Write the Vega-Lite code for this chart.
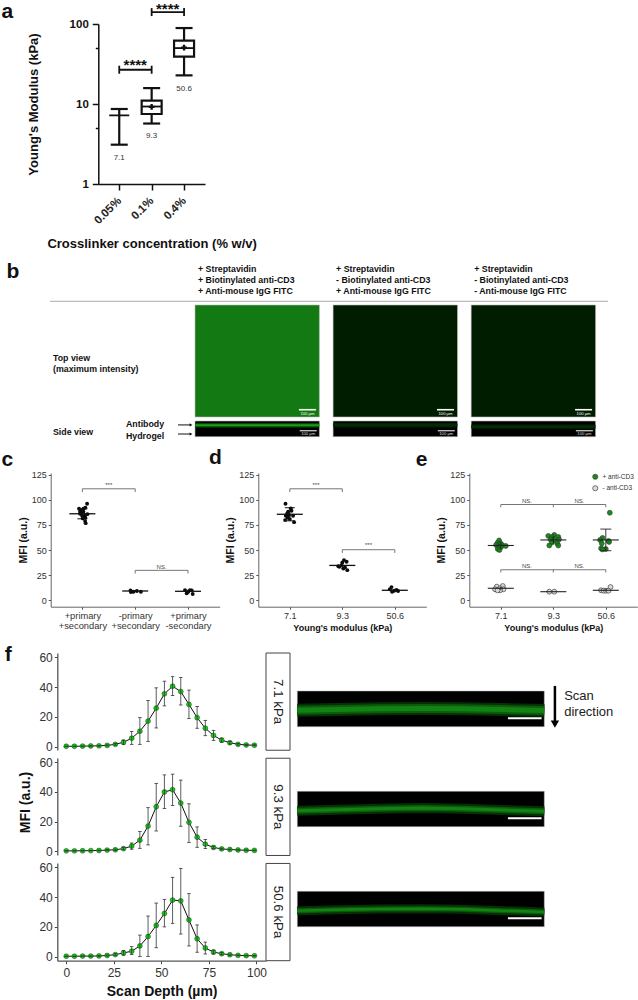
{
"$schema":"https://vega.github.io/schema/vega-lite/v6.json",
"width":638,"height":1000,"padding":0,"autosize":"none","background":"white",
"config":{"view":{"stroke":null},"font":"Liberation Sans","text":{"font":"Liberation Sans"},"tick":{"opacity":1},"axis":{"labelFont":"Liberation Sans","titleFont":"Liberation Sans","grid":false,"labelOverlap":false,"labelFlush":false}},
"resolve":{"scale":{"x":"independent","y":"independent","fill":"independent"},"axis":{"x":"independent","y":"independent"},"legend":{"fill":"independent"}},
"datasets":{
"a":[
{"conc":"0.05%","part":"whisker","y":3.1,"y2":8.66},{"conc":"0.1%","part":"whisker","y":5.7,"y2":15.8},{"conc":"0.4%","part":"whisker","y":22.8,"y2":89},
{"conc":"0.05%","part":"cap","y":3.1},{"conc":"0.05%","part":"cap","y":8.66},{"conc":"0.1%","part":"cap","y":5.7},{"conc":"0.1%","part":"cap","y":15.8},{"conc":"0.4%","part":"cap","y":22.8},{"conc":"0.4%","part":"cap","y":89},
{"conc":"0.1%","part":"box","y":7.5,"y2":11},{"conc":"0.4%","part":"box","y":39,"y2":62},
{"conc":"0.05%","part":"median","y":7.2},{"conc":"0.1%","part":"median","y":9.3},{"conc":"0.4%","part":"median","y":50},
{"conc":"0.1%","part":"mean","y":9.2},{"conc":"0.4%","part":"mean","y":50.6},
{"conc":"0.05%","part":"label","y":2.11,"t":"7.1"},{"conc":"0.1%","part":"label","y":3.98,"t":"9.3"},{"conc":"0.4%","part":"label","y":15.3,"t":"50.6"},
{"conc":"0.05%","part":"bh","x2":"0.1%","y":26.8},{"conc":"0.1%","part":"bh","x2":"0.4%","y":141},
{"conc":"0.05%","part":"bv","y":23.9,"y2":30.1},{"conc":"0.1%","part":"bv","y":23.9,"y2":30.1},{"conc":"0.1%","part":"bv","y":125.6,"y2":158},{"conc":"0.4%","part":"bv","y":125.6,"y2":158},
{"conc":"0.05%","part":"stars","y":31,"t":"****"},{"conc":"0.1%","part":"stars","y":155,"t":"****"},
{"conc":"0.05%","part":"letter","y":100,"t":"a"}
],
"bTop":[{"cond":"c1","y":0.5,"level":1},{"cond":"c2","y":0.5,"level":0.05},{"cond":"c3","y":0.5,"level":0.05}],
"bSideBg":[{"cond":"c1","y":0.5},{"cond":"c2","y":0.5},{"cond":"c3","y":0.5}],
"bGlow":[{"cond":"c1","y":0.27,"level":0.45},{"cond":"c2","y":0.26,"level":0.08},{"cond":"c3","y":0.36,"level":0.08}],
"bCore":[{"cond":"c1","y":0.27,"level":1},{"cond":"c2","y":0.25,"level":0.2},{"cond":"c3","y":0.37,"level":0.22}],
"bHead":[
{"cond":"c1","line":"l1","t":"+ Streptavidin"},{"cond":"c1","line":"l2","t":"+ Biotinylated anti-CD3"},{"cond":"c1","line":"l3","t":"+ Anti-mouse IgG FITC"},
{"cond":"c2","line":"l1","t":"+ Streptavidin"},{"cond":"c2","line":"l2","t":"- Biotinylated anti-CD3"},{"cond":"c2","line":"l3","t":"+ Anti-mouse IgG FITC"},
{"cond":"c3","line":"l1","t":"+ Streptavidin"},{"cond":"c3","line":"l2","t":"- Biotinylated anti-CD3"},{"cond":"c3","line":"l3","t":"- Anti-mouse IgG FITC"}
],
"c":[
{"g":"+primary|+secondary","part":"point","y":96,"jit":4.7},{"g":"+primary|+secondary","part":"point","y":91,"jit":-3.3},{"g":"+primary|+secondary","part":"point","y":91,"jit":1},{"g":"+primary|+secondary","part":"point","y":92,"jit":3},{"g":"+primary|+secondary","part":"point","y":89,"jit":-1.3},{"g":"+primary|+secondary","part":"point","y":86,"jit":-2.3},{"g":"+primary|+secondary","part":"point","y":88,"jit":1},{"g":"+primary|+secondary","part":"point","y":85.6,"jit":5},{"g":"+primary|+secondary","part":"point","y":84,"jit":-0.3},{"g":"+primary|+secondary","part":"point","y":84,"jit":2.3},{"g":"+primary|+secondary","part":"point","y":81.4,"jit":0.3},{"g":"+primary|+secondary","part":"point","y":82,"jit":3},{"g":"+primary|+secondary","part":"point","y":78.7,"jit":2.7},{"g":"+primary|+secondary","part":"point","y":76.7,"jit":3.3},{"g":"+primary|+secondary","part":"point","y":88,"jit":-2.3},
{"g":"-primary|+secondary","part":"point","y":9.9,"jit":-4.7},{"g":"-primary|+secondary","part":"point","y":8.6,"jit":-1.7},{"g":"-primary|+secondary","part":"point","y":9.3,"jit":1.7},{"g":"-primary|+secondary","part":"point","y":8.6,"jit":5.7},{"g":"-primary|+secondary","part":"point","y":8.3,"jit":-4.3},
{"g":"+primary|-secondary","part":"point","y":10.2,"jit":-3},{"g":"+primary|-secondary","part":"point","y":7,"jit":-1.3},{"g":"+primary|-secondary","part":"point","y":10.2,"jit":2},{"g":"+primary|-secondary","part":"point","y":6.3,"jit":4.7},{"g":"+primary|-secondary","part":"point","y":8.6,"jit":0.3},{"g":"+primary|-secondary","part":"point","y":9.9,"jit":3.7},
{"g":"+primary|+secondary","part":"mean","y":86},{"g":"-primary|+secondary","part":"mean","y":9.3},{"g":"+primary|-secondary","part":"mean","y":9},
{"g":"+primary|+secondary","part":"err","y":81,"y2":91},{"g":"-primary|+secondary","part":"err","y":8.4,"y2":10.2},{"g":"+primary|-secondary","part":"err","y":7.4,"y2":10.6},
{"g":"+primary|+secondary","part":"cap","y":81},{"g":"+primary|+secondary","part":"cap","y":91},
{"g":"+primary|+secondary","part":"bh","x2":"-primary|+secondary","y":110.8},{"g":"-primary|+secondary","part":"bh","x2":"+primary|-secondary","y":29.8},
{"g":"+primary|+secondary","part":"bv","y":107.6,"y2":110.8},{"g":"-primary|+secondary","part":"bv","y":107.6,"y2":110.8},{"g":"-primary|+secondary","part":"bv","y":26.6,"y2":29.8},{"g":"+primary|-secondary","part":"bv","y":26.6,"y2":29.8},
{"g":"+primary|+secondary","part":"sig","y":115,"t":"***"},{"g":"-primary|+secondary","part":"sig","y":33.5,"t":"NS."},
{"g":"+primary|+secondary","part":"letter","y":125,"t":"c"}
],
"d":[
{"g":"7.1","part":"point","y":96,"jit":-4.3},{"g":"7.1","part":"point","y":91.3,"jit":1},{"g":"7.1","part":"point","y":86,"jit":-2.7},{"g":"7.1","part":"point","y":84.7,"jit":-0.7},{"g":"7.1","part":"point","y":84,"jit":-4},{"g":"7.1","part":"point","y":84,"jit":3.3},{"g":"7.1","part":"point","y":79.7,"jit":-4.7},{"g":"7.1","part":"point","y":80.7,"jit":0},{"g":"7.1","part":"point","y":77.7,"jit":4.3},{"g":"7.1","part":"point","y":82,"jit":-2.3},{"g":"7.1","part":"point","y":89,"jit":1.7},{"g":"7.1","part":"point","y":88,"jit":-1.7},
{"g":"9.3","part":"point","y":40,"jit":1.7},{"g":"9.3","part":"point","y":37.7,"jit":0},{"g":"9.3","part":"point","y":38.4,"jit":4.3},{"g":"9.3","part":"point","y":34,"jit":-4},{"g":"9.3","part":"point","y":35,"jit":-0.7},{"g":"9.3","part":"point","y":32.7,"jit":2.7},{"g":"9.3","part":"point","y":31.7,"jit":1},{"g":"9.3","part":"point","y":30,"jit":5},{"g":"9.3","part":"point","y":33.4,"jit":-3},
{"g":"50.6","part":"point","y":13.2,"jit":-3.3},{"g":"50.6","part":"point","y":11,"jit":-5},{"g":"50.6","part":"point","y":9.6,"jit":-0.7},{"g":"50.6","part":"point","y":9.3,"jit":3.3},{"g":"50.6","part":"point","y":8.6,"jit":-2.7},{"g":"50.6","part":"point","y":10.3,"jit":1.7},
{"g":"7.1","part":"mean","y":85.5},{"g":"9.3","part":"mean","y":34.7},{"g":"50.6","part":"mean","y":10},
{"g":"7.1","part":"err","y":79,"y2":92},{"g":"9.3","part":"err","y":31,"y2":38},{"g":"50.6","part":"err","y":8.6,"y2":11.4},
{"g":"7.1","part":"cap","y":79},{"g":"7.1","part":"cap","y":92},
{"g":"7.1","part":"bh","x2":"9.3","y":110.8},{"g":"9.3","part":"bh","x2":"50.6","y":50.3},
{"g":"7.1","part":"bv","y":107.6,"y2":110.8},{"g":"9.3","part":"bv","y":107.6,"y2":110.8},{"g":"9.3","part":"bv","y":47.1,"y2":50.3},{"g":"50.6","part":"bv","y":47.1,"y2":50.3},
{"g":"7.1","part":"sig","y":115,"t":"***"},{"g":"9.3","part":"sig","y":55,"t":"***"},
{"g":"7.1","part":"letter","y":125,"t":"d"}
],
"e":[
{"g":"7.1","part":"point","tr":"+ anti-CD3","y":59.5,"jit":-1.7},{"g":"7.1","part":"point","tr":"+ anti-CD3","y":57,"jit":-3.3},{"g":"7.1","part":"point","tr":"+ anti-CD3","y":56.5,"jit":-0.3},{"g":"7.1","part":"point","tr":"+ anti-CD3","y":55,"jit":-4.7},{"g":"7.1","part":"point","tr":"+ anti-CD3","y":55,"jit":1.3},{"g":"7.1","part":"point","tr":"+ anti-CD3","y":54,"jit":5},{"g":"7.1","part":"point","tr":"+ anti-CD3","y":53,"jit":-2.3},{"g":"7.1","part":"point","tr":"+ anti-CD3","y":53,"jit":0.3},{"g":"7.1","part":"point","tr":"+ anti-CD3","y":51,"jit":-3},{"g":"7.1","part":"point","tr":"+ anti-CD3","y":50,"jit":-1.3},
{"g":"9.3","part":"point","tr":"+ anti-CD3","y":65,"jit":1},{"g":"9.3","part":"point","tr":"+ anti-CD3","y":64,"jit":-5},{"g":"9.3","part":"point","tr":"+ anti-CD3","y":63,"jit":-1},{"g":"9.3","part":"point","tr":"+ anti-CD3","y":63,"jit":5},{"g":"9.3","part":"point","tr":"+ anti-CD3","y":60.5,"jit":-2.7},{"g":"9.3","part":"point","tr":"+ anti-CD3","y":60,"jit":1},{"g":"9.3","part":"point","tr":"+ anti-CD3","y":60.5,"jit":5.7},{"g":"9.3","part":"point","tr":"+ anti-CD3","y":57.5,"jit":-1.3},{"g":"9.3","part":"point","tr":"+ anti-CD3","y":56.5,"jit":4},{"g":"9.3","part":"point","tr":"+ anti-CD3","y":54.5,"jit":-4},{"g":"9.3","part":"point","tr":"+ anti-CD3","y":54.5,"jit":5},
{"g":"50.6","part":"point","tr":"+ anti-CD3","y":87,"jit":4},{"g":"50.6","part":"point","tr":"+ anti-CD3","y":62,"jit":-3.3},{"g":"50.6","part":"point","tr":"+ anti-CD3","y":60,"jit":-5.7},{"g":"50.6","part":"point","tr":"+ anti-CD3","y":59,"jit":2.7},{"g":"50.6","part":"point","tr":"+ anti-CD3","y":56.5,"jit":-4},{"g":"50.6","part":"point","tr":"+ anti-CD3","y":58,"jit":3.3},{"g":"50.6","part":"point","tr":"+ anti-CD3","y":51.6,"jit":-4.7},{"g":"50.6","part":"point","tr":"+ anti-CD3","y":51,"jit":0},{"g":"50.6","part":"point","tr":"+ anti-CD3","y":50.6,"jit":-3.3},
{"g":"7.1","part":"point","tr":"- anti-CD3","y":13.6,"jit":-4},{"g":"7.1","part":"point","tr":"- anti-CD3","y":14.2,"jit":2},{"g":"7.1","part":"point","tr":"- anti-CD3","y":12,"jit":-0.7},{"g":"7.1","part":"point","tr":"- anti-CD3","y":11,"jit":-5.7},{"g":"7.1","part":"point","tr":"- anti-CD3","y":11,"jit":2.7},{"g":"7.1","part":"point","tr":"- anti-CD3","y":10,"jit":-0.7},{"g":"7.1","part":"point","tr":"- anti-CD3","y":10,"jit":-3.3},
{"g":"9.3","part":"point","tr":"- anti-CD3","y":8.6,"jit":-4},{"g":"9.3","part":"point","tr":"- anti-CD3","y":8.6,"jit":1},
{"g":"50.6","part":"point","tr":"- anti-CD3","y":13.2,"jit":4.7},{"g":"50.6","part":"point","tr":"- anti-CD3","y":10,"jit":-4.7},{"g":"50.6","part":"point","tr":"- anti-CD3","y":9.6,"jit":-2.3},{"g":"50.6","part":"point","tr":"- anti-CD3","y":9.6,"jit":0.3},{"g":"50.6","part":"point","tr":"- anti-CD3","y":9.6,"jit":2.7},
{"g":"7.1","part":"mean","y":54.5},{"g":"9.3","part":"mean","y":60},{"g":"50.6","part":"mean","y":60},{"g":"7.1","part":"mean","y":12},{"g":"9.3","part":"mean","y":8.6},{"g":"50.6","part":"mean","y":10},
{"g":"7.1","part":"err","y":50.5,"y2":58},{"g":"9.3","part":"err","y":56,"y2":64},{"g":"50.6","part":"err","y":49.3,"y2":70.8},{"g":"7.1","part":"err","y":10,"y2":13.5},{"g":"50.6","part":"err","y":8.8,"y2":11.6},
{"g":"50.6","part":"cap","y":49.3},{"g":"50.6","part":"cap","y":70.8},
{"g":"7.1","part":"bh","x2":"50.6","y":95.2},{"g":"7.1","part":"bh","x2":"50.6","y":30.4},
{"g":"7.1","part":"bv","y":92.5,"y2":95.2},{"g":"9.3","part":"bv","y":92.5,"y2":95.2},{"g":"50.6","part":"bv","y":92.5,"y2":95.2},{"g":"7.1","part":"bv","y":27.7,"y2":30.4},{"g":"9.3","part":"bv","y":27.7,"y2":30.4},{"g":"50.6","part":"bv","y":27.7,"y2":30.4},
{"g":"7.1","part":"sig","y":98.6,"t":"NS."},{"g":"9.3","part":"sig","y":98.6,"t":"NS."},{"g":"7.1","part":"sig","y":33.8,"t":"NS."},{"g":"9.3","part":"sig","y":33.8,"t":"NS."},
{"g":"7.1","part":"letter","y":125,"t":"e"}
],
"f1":[{"d":0,"m":0.3,"lo":0.2,"hi":0.4},{"d":4.3,"m":0.3,"lo":0.2,"hi":0.4},{"d":8.6,"m":0.4,"lo":0.3,"hi":0.5},{"d":12.9,"m":0.5,"lo":0.3,"hi":0.7},{"d":17.2,"m":0.6,"lo":0.4,"hi":0.8},{"d":21.5,"m":0.9,"lo":0.6,"hi":1.2},{"d":25.8,"m":1.6,"lo":1.1,"hi":2.2},{"d":30.1,"m":3,"lo":1.6,"hi":4.5},{"d":34.4,"m":5.7,"lo":1.6,"hi":10.3},{"d":38.7,"m":10.4,"lo":1.6,"hi":19.5},{"d":43,"m":17.2,"lo":3.6,"hi":31},{"d":47.3,"m":25.9,"lo":12.6,"hi":39.5},{"d":51.6,"m":35.5,"lo":27.4,"hi":44},{"d":55.9,"m":40.6,"lo":34.4,"hi":47},{"d":60.2,"m":37,"lo":28,"hi":46.5},{"d":64.5,"m":28.4,"lo":19,"hi":38},{"d":68.8,"m":19.5,"lo":12.4,"hi":27},{"d":73.1,"m":12.4,"lo":7.4,"hi":17.7},{"d":77.4,"m":7.6,"lo":4.3,"hi":11},{"d":81.7,"m":4.4,"lo":3,"hi":5.8},{"d":86,"m":2.7,"lo":1.8,"hi":3.5},{"d":90.3,"m":1.6,"lo":1.1,"hi":2.1},{"d":94.6,"m":1.2,"lo":0.9,"hi":1.5},{"d":98.9,"m":1,"lo":0.7,"hi":1.3}],
"f2":[{"d":0,"m":0.3,"lo":0.2,"hi":0.4},{"d":4.3,"m":0.3,"lo":0.2,"hi":0.4},{"d":8.6,"m":0.35,"lo":0.2,"hi":0.5},{"d":12.9,"m":0.45,"lo":0.3,"hi":0.6},{"d":17.2,"m":0.55,"lo":0.3,"hi":0.8},{"d":21.5,"m":0.8,"lo":0.5,"hi":1.1},{"d":25.8,"m":1,"lo":0.6,"hi":1.5},{"d":30.1,"m":1.8,"lo":1,"hi":2.7},{"d":34.4,"m":3.5,"lo":1.4,"hi":5.6},{"d":38.7,"m":7.5,"lo":2,"hi":13.3},{"d":43,"m":17,"lo":4.3,"hi":29.4},{"d":47.3,"m":30,"lo":13.7,"hi":45.8},{"d":51.6,"m":40,"lo":28.8,"hi":51.5},{"d":55.9,"m":41.5,"lo":30.8,"hi":52},{"d":60.2,"m":32.5,"lo":16.9,"hi":48},{"d":64.5,"m":19.5,"lo":6,"hi":32},{"d":68.8,"m":9.5,"lo":2.7,"hi":16.4},{"d":73.1,"m":4.8,"lo":1.8,"hi":7.9},{"d":77.4,"m":2.6,"lo":1.8,"hi":3.4},{"d":81.7,"m":1.6,"lo":1.1,"hi":2.1},{"d":86,"m":1.2,"lo":0.9,"hi":1.5},{"d":90.3,"m":0.9,"lo":0.7,"hi":1.1},{"d":94.6,"m":0.7,"lo":0.5,"hi":0.9},{"d":98.9,"m":0.6,"lo":0.4,"hi":0.8}],
"f3":[{"d":0,"m":0.3,"lo":0.2,"hi":0.4},{"d":4.3,"m":0.3,"lo":0.2,"hi":0.4},{"d":8.6,"m":0.4,"lo":0.3,"hi":0.5},{"d":12.9,"m":0.4,"lo":0.3,"hi":0.5},{"d":17.2,"m":0.5,"lo":0.3,"hi":0.7},{"d":21.5,"m":0.8,"lo":0.5,"hi":1.1},{"d":25.8,"m":1.4,"lo":0.8,"hi":2},{"d":30.1,"m":2.5,"lo":1,"hi":4.2},{"d":34.4,"m":3.7,"lo":1.5,"hi":6.7},{"d":38.7,"m":7.2,"lo":0,"hi":14.5},{"d":43,"m":13.5,"lo":0.2,"hi":27.3},{"d":47.3,"m":21,"lo":6,"hi":36},{"d":51.6,"m":29,"lo":20,"hi":38.5},{"d":55.9,"m":38,"lo":22.4,"hi":53.3},{"d":60.2,"m":37.5,"lo":15.2,"hi":59.3},{"d":64.5,"m":24.7,"lo":7.2,"hi":42.3},{"d":68.8,"m":12,"lo":3,"hi":21.3},{"d":73.1,"m":5.8,"lo":1.8,"hi":9.8},{"d":77.4,"m":3.1,"lo":1.8,"hi":4.4},{"d":81.7,"m":2,"lo":1.3,"hi":2.7},{"d":86,"m":1.3,"lo":0.9,"hi":1.7},{"d":90.3,"m":0.9,"lo":0.6,"hi":1.2},{"d":94.6,"m":0.7,"lo":0.5,"hi":0.9},{"d":98.9,"m":0.6,"lo":0.4,"hi":0.8}],
"img1":[{"x":0,"y":57},{"x":120,"y":55},{"x":240,"y":53},{"x":370,"y":52},{"x":490,"y":53},{"x":610,"y":55},{"x":733,"y":58}],
"img2":[{"x":0,"y":58},{"x":120,"y":55},{"x":240,"y":52},{"x":370,"y":50},{"x":490,"y":52},{"x":610,"y":56},{"x":733,"y":60}],
"img3":[{"x":0,"y":58},{"x":120,"y":55},{"x":240,"y":53},{"x":370,"y":52},{"x":490,"y":54},{"x":610,"y":58},{"x":733,"y":62}]
},
"layer":[
{"data":{"name":"a"},
 "encoding":{
  "x":{"field":"conc","type":"nominal","scale":{"type":"point","domain":["0.05%","0.1%","0.4%"],"range":[98.3,205],"padding":0.646},
   "axis":{"orient":"bottom","offset":-816,"title":"Crosslinker concentration (% w/v)","titleFontSize":13,"titleFontWeight":"bold","titleColor":"#111","titlePadding":12,"labelAngle":-45,"labelAlign":"right","labelBaseline":"middle","labelFontSize":11.5,"labelFontWeight":"bold","labelColor":"#222","labelPadding":9,"tickSize":6,"tickWidth":1.5,"tickColor":"#111","domainWidth":1.5,"domainColor":"#111"}},
  "y":{"field":"y","type":"quantitative","scale":{"type":"log","domain":[1,100],"range":[184,24]},
   "axis":{"orient":"left","offset":-98.3,"title":"Young's Modulus (kPa)","titleFontSize":13,"titleFontWeight":"bold","titleColor":"#111","titlePadding":29,"values":[1,5,10,50,100],"labelExpr":"datum.value==5||datum.value==50?'':datum.label","labelFontSize":11.5,"labelFontWeight":"bold","labelColor":"#111","labelPadding":4,"tickSize":{"condition":{"test":"datum.value==5||datum.value==50","value":3},"value":6},"tickWidth":1.5,"tickColor":"#111","domainWidth":1.5,"domainColor":"#111"}}},
 "layer":[
  {"transform":[{"filter":"datum.part==='whisker'"}],"mark":{"type":"rule","color":"#111","strokeWidth":2.2},"encoding":{"y2":{"field":"y2"}}},
  {"transform":[{"filter":"datum.part==='cap'"}],"mark":{"type":"tick","color":"#111","size":17,"thickness":2.2}},
  {"transform":[{"filter":"datum.part==='box'"}],"mark":{"type":"bar","fill":"white","stroke":"#111","strokeWidth":2.2,"size":20}, "encoding":{"y2":{"field":"y2"}}},
  {"transform":[{"filter":"datum.part==='median'"}],"mark":{"type":"tick","color":"#111","size":20,"thickness":1.8}},
  {"transform":[{"filter":"datum.part==='mean'"}],"mark":{"type":"point","shape":"cross","filled":true,"color":"#111","size":34,"opacity":1}},
  {"transform":[{"filter":"datum.part==='label'"}],"mark":{"type":"text","fontSize":8,"color":"#333","baseline":"middle"},"encoding":{"text":{"field":"t"}}},
  {"transform":[{"filter":"datum.part==='bh'"}],"mark":{"type":"rule","color":"#111","strokeWidth":1.8},"encoding":{"x2":{"field":"x2"}}},
  {"transform":[{"filter":"datum.part==='bv'"}],"mark":{"type":"rule","color":"#111","strokeWidth":1.8},"encoding":{"y2":{"field":"y2"}}},
  {"transform":[{"filter":"datum.part==='stars'"}],"mark":{"type":"text","fontSize":15,"fontWeight":"bold","color":"#111","dx":16,"baseline":"middle"},"encoding":{"text":{"field":"t"}}},
  {"transform":[{"filter":"datum.part==='letter'"}],"mark":{"type":"text","fontSize":21,"fontWeight":"bold","color":"#111","dx":-112,"dy":-12,"baseline":"middle"},"encoding":{"text":{"field":"t"}}}
 ]},
{"data":{"values":[{"a":0,"b":1,"y":0}]},
 "mark":{"type":"rule","color":"#aaaaaa","strokeWidth":1},
 "encoding":{"x":{"field":"a","type":"quantitative","scale":{"domain":[0,1],"range":[50,608]},"axis":null},"x2":{"field":"b"},"y":{"field":"y","type":"quantitative","scale":{"domain":[0,1],"range":[301.3,320]},"axis":null}}},
{"data":{"name":"bHead"},
 "mark":{"type":"text","fontSize":8.8,"fontWeight":"bold","color":"#111","align":"left","baseline":"middle","dx":3},
 "encoding":{"x":{"field":"cond","type":"nominal","bandPosition":0,"scale":{"type":"band","domain":["c1","c2","c3"],"range":[195,595.6],"paddingInner":0.099,"paddingOuter":0},"axis":null},
  "y":{"field":"line","type":"nominal","scale":{"type":"point","domain":["l1","l2","l3"],"range":[269.3,291],"padding":0},"axis":null},"text":{"field":"t"}}},
{"encoding":{"x":{"field":"cond","type":"nominal","scale":{"type":"band","domain":["c1","c2","c3"],"range":[195,595.6],"paddingInner":0.099,"paddingOuter":0},"axis":null},
  "y":{"field":"y","type":"quantitative","scale":{"domain":[0,1],"range":[305,417]},"axis":null}},
 "layer":[
  {"data":{"name":"bTop"},"mark":{"type":"tick","size":124.4,"thickness":112,"stroke":"#bbbbbb","strokeWidth":0.6},"encoding":{"fill":{"field":"level","type":"quantitative","scale":{"domain":[0,1],"range":["#000000","#137a13"]},"legend":null}}},
  {"data":{"values":[{"cond":"c1","y":0.935},{"cond":"c2","y":0.935},{"cond":"c3","y":0.935}]},"mark":{"type":"tick","color":"white","size":17,"thickness":1.6,"xOffset":50.2}},
  {"data":{"values":[{"cond":"c1","y":0.97,"t":"100 µm"},{"cond":"c2","y":0.97,"t":"100 µm"},{"cond":"c3","y":0.97,"t":"100 µm"}]},"mark":{"type":"text","fontSize":4.2,"color":"white","dx":50.2,"baseline":"middle"},"encoding":{"text":{"field":"t"}}},
  {"data":{"values":[{"cond":"c1","y":0.473,"t":"Top view"},{"cond":"c1","y":0.571,"t":"(maximum intensity)"}]},"mark":{"type":"text","fontSize":8.8,"fontWeight":"bold","color":"#111","align":"left","baseline":"middle","dx":-142},"encoding":{"x":{"field":"cond","type":"nominal","bandPosition":0},"text":{"field":"t"}}},
  {"data":{"values":[{"cond":"c1","y":0,"t":"b"}]},"mark":{"type":"text","fontSize":21,"fontWeight":"bold","color":"#111","dx":-182,"dy":-33,"baseline":"middle"},"encoding":{"x":{"field":"cond","type":"nominal","bandPosition":0},"text":{"field":"t"}}}
 ]},
{"encoding":{"x":{"field":"cond","type":"nominal","scale":{"type":"band","domain":["c1","c2","c3"],"range":[195,595.6],"paddingInner":0.099,"paddingOuter":0},"axis":null},
  "y":{"field":"y","type":"quantitative","scale":{"domain":[0,1],"range":[421,436.7]},"axis":null}},
 "layer":[
  {"data":{"name":"bSideBg"},"mark":{"type":"tick","size":124.4,"thickness":15.7,"color":"#000000","stroke":"#bbbbbb","strokeWidth":0.6}},
  {"data":{"name":"bGlow"},"mark":{"type":"tick","size":124,"thickness":4.4},"encoding":{"fill":{"field":"level","type":"quantitative","scale":{"domain":[0,1],"range":["#000000","#1c9c1c"]},"legend":null}}},
  {"data":{"name":"bCore"},"mark":{"type":"tick","size":124,"thickness":2},"encoding":{"fill":{"field":"level","type":"quantitative","scale":{"domain":[0,1],"range":["#000000","#1c9c1c"]},"legend":null}}},
  {"data":{"values":[{"cond":"c1","y":0.62},{"cond":"c2","y":0.62},{"cond":"c3","y":0.62}]},"mark":{"type":"tick","color":"#dddddd","size":17,"thickness":1.2,"xOffset":51}},
  {"data":{"values":[{"cond":"c1","y":0.85,"t":"100 µm"},{"cond":"c2","y":0.85,"t":"100 µm"},{"cond":"c3","y":0.85,"t":"100 µm"}]},"mark":{"type":"text","fontSize":4.2,"color":"#dddddd","dx":51,"baseline":"middle"},"encoding":{"text":{"field":"t"}}},
  {"data":{"values":[{"cond":"c1","y":0.68,"t":"Side view"}]},"mark":{"type":"text","fontSize":8.8,"fontWeight":"bold","color":"#111","align":"left","baseline":"middle","dx":-142},"encoding":{"x":{"field":"cond","type":"nominal","bandPosition":0},"text":{"field":"t"}}},
  {"data":{"values":[{"cond":"c1","y":0.19,"t":"Antibody"},{"cond":"c1","y":0.955,"t":"Hydrogel"}]},"mark":{"type":"text","fontSize":8.8,"fontWeight":"bold","color":"#111","align":"left","baseline":"middle","dx":-69},"encoding":{"x":{"field":"cond","type":"nominal","bandPosition":0},"text":{"field":"t"}}}
 ]},
{"data":{"values":[{"a":0,"b":1,"y":0.25},{"a":0,"b":1,"y":0.83}]},
 "encoding":{"x":{"field":"a","type":"quantitative","scale":{"domain":[0,1],"range":[178,191]},"axis":null},"y":{"field":"y","type":"quantitative","scale":{"domain":[0,1],"range":[421,436.7]},"axis":null}},
 "layer":[
  {"mark":{"type":"rule","color":"#111","strokeWidth":1},"encoding":{"x2":{"field":"b"}}},
  {"mark":{"type":"point","shape":"triangle-right","filled":true,"color":"#111","size":10,"opacity":1},"encoding":{"x":{"field":"b","type":"quantitative","scale":{"domain":[0,1],"range":[178,191]},"axis":null}}}
 ]},
{"data":{"name":"c"},
 "encoding":{
  "x":{"field":"g","type":"nominal","scale":{"type":"point","domain":["+primary|+secondary","-primary|+secondary","+primary|-secondary"],"range":[50.7,219.7],"padding":0.6},
   "axis":{"orient":"bottom","offset":-393.3,"title":null,"labelExpr":"split(datum.label,'|')","labelAngle":0,"labelFontSize":9.3,"labelColor":"#333","labelPadding":2,"labelLineHeight":10.7,"tickSize":2.5,"tickColor":"#555","domainColor":"#666","domainWidth":1}},
  "y":{"field":"y","type":"quantitative","scale":{"domain":[-6.3,126.5],"range":[606.7,473]},
   "axis":{"orient":"left","offset":-50.7,"title":"MFI (a.u.)","titleFontSize":10.5,"titleFontWeight":"bold","titleColor":"#111","titlePadding":3,"values":[0,25,50,75,100,125],"labelFontSize":9,"labelColor":"#333","labelPadding":2,"tickSize":2.5,"tickColor":"#555","domainColor":"#666","domainWidth":1}}},
 "layer":[
  {"transform":[{"filter":"datum.part==='point'"}],"mark":{"type":"point","filled":true,"color":"#0a0a0a","size":15,"opacity":1},"encoding":{"xOffset":{"field":"jit","type":"quantitative","scale":{"domain":[-10,10],"range":[-10,10]}}}},
  {"transform":[{"filter":"datum.part==='err'"}],"mark":{"type":"rule","color":"#111","strokeWidth":1},"encoding":{"y2":{"field":"y2"}}},
  {"transform":[{"filter":"datum.part==='cap'"}],"mark":{"type":"tick","color":"#111","size":10,"thickness":1}},
  {"transform":[{"filter":"datum.part==='mean'"}],"mark":{"type":"tick","color":"#111","size":26,"thickness":1.3}},
  {"transform":[{"filter":"datum.part==='bh'"}],"mark":{"type":"rule","color":"#666","strokeWidth":0.9},"encoding":{"x2":{"field":"x2"}}},
  {"transform":[{"filter":"datum.part==='bv'"}],"mark":{"type":"rule","color":"#666","strokeWidth":0.9},"encoding":{"y2":{"field":"y2"}}},
  {"transform":[{"filter":"datum.part==='sig'"}],"mark":{"type":"text","fontSize":6,"color":"#444","dx":26.4,"baseline":"middle"},"encoding":{"text":{"field":"t"}}},
  {"transform":[{"filter":"datum.part==='letter'"}],"mark":{"type":"text","fontSize":21,"fontWeight":"bold","color":"#111","dx":-75,"dy":-14.5,"baseline":"middle"},"encoding":{"text":{"field":"t"}}}
 ]},
{"data":{"name":"d"},
 "encoding":{
  "x":{"field":"g","type":"nominal","scale":{"type":"point","domain":["7.1","9.3","50.6"],"range":[258.3,426.3],"padding":0.6},
   "axis":{"orient":"bottom","offset":-393.3,"title":"Young's modulus (kPa)","titleFontSize":9,"titleFontWeight":"bold","titleColor":"#111","titlePadding":3,"labelAngle":0,"labelFontSize":9,"labelColor":"#333","labelPadding":2,"tickSize":2.5,"tickColor":"#555","domainColor":"#666","domainWidth":1}},
  "y":{"field":"y","type":"quantitative","scale":{"domain":[-6.3,126.5],"range":[606.7,473]},
   "axis":{"orient":"left","offset":-258.3,"title":"MFI (a.u.)","titleFontSize":10.5,"titleFontWeight":"bold","titleColor":"#111","titlePadding":3,"values":[0,25,50,75,100,125],"labelFontSize":9,"labelColor":"#333","labelPadding":2,"tickSize":2.5,"tickColor":"#555","domainColor":"#666","domainWidth":1}}},
 "layer":[
  {"transform":[{"filter":"datum.part==='point'"}],"mark":{"type":"point","filled":true,"color":"#0a0a0a","size":15,"opacity":1},"encoding":{"xOffset":{"field":"jit","type":"quantitative","scale":{"domain":[-10,10],"range":[-10,10]}}}},
  {"transform":[{"filter":"datum.part==='err'"}],"mark":{"type":"rule","color":"#111","strokeWidth":1},"encoding":{"y2":{"field":"y2"}}},
  {"transform":[{"filter":"datum.part==='cap'"}],"mark":{"type":"tick","color":"#111","size":10,"thickness":1}},
  {"transform":[{"filter":"datum.part==='mean'"}],"mark":{"type":"tick","color":"#111","size":26,"thickness":1.3}},
  {"transform":[{"filter":"datum.part==='bh'"}],"mark":{"type":"rule","color":"#666","strokeWidth":0.9},"encoding":{"x2":{"field":"x2"}}},
  {"transform":[{"filter":"datum.part==='bv'"}],"mark":{"type":"rule","color":"#666","strokeWidth":0.9},"encoding":{"y2":{"field":"y2"}}},
  {"transform":[{"filter":"datum.part==='sig'"}],"mark":{"type":"text","fontSize":6,"color":"#444","dx":26.2,"baseline":"middle"},"encoding":{"text":{"field":"t"}}},
  {"transform":[{"filter":"datum.part==='letter'"}],"mark":{"type":"text","fontSize":21,"fontWeight":"bold","color":"#111","dx":-74.3,"dy":-16.5,"baseline":"middle"},"encoding":{"text":{"field":"t"}}}
 ]},
{"data":{"name":"e"},
 "encoding":{
  "x":{"field":"g","type":"nominal","scale":{"type":"point","domain":["7.1","9.3","50.6"],"range":[469.3,637.3],"padding":0.6},
   "axis":{"orient":"bottom","offset":-393.3,"title":"Young's modulus (kPa)","titleFontSize":9,"titleFontWeight":"bold","titleColor":"#111","titlePadding":3,"labelAngle":0,"labelFontSize":9,"labelColor":"#333","labelPadding":2,"tickSize":2.5,"tickColor":"#555","domainColor":"#666","domainWidth":1}},
  "y":{"field":"y","type":"quantitative","scale":{"domain":[-6.3,126.5],"range":[606.7,473]},
   "axis":{"orient":"left","offset":-469.3,"title":"MFI (a.u.)","titleFontSize":10.5,"titleFontWeight":"bold","titleColor":"#111","titlePadding":3,"values":[0,25,50,75,100,125],"labelFontSize":9,"labelColor":"#333","labelPadding":2,"tickSize":2.5,"tickColor":"#555","domainColor":"#666","domainWidth":1}}},
 "layer":[
  {"transform":[{"filter":"datum.part==='point'"}],"mark":{"type":"point","filled":true,"stroke":"#333333","strokeWidth":0.7,"size":24,"opacity":0.95},"encoding":{"xOffset":{"field":"jit","type":"quantitative","scale":{"domain":[-10,10],"range":[-10,10]}},"fill":{"field":"tr","type":"nominal","scale":{"domain":["+ anti-CD3","- anti-CD3"],"range":["#0a8a0a","#dcdcdc"]},"legend":{"orient":"none","legendX":592,"legendY":473.5,"title":null,"labelFontSize":6.5,"labelColor":"#333","symbolSize":26,"symbolStrokeColor":"#333333","symbolStrokeWidth":0.7,"rowPadding":2.5,"labelOffset":4,"padding":0}}}},
  {"transform":[{"filter":"datum.part==='err'"}],"mark":{"type":"rule","color":"#222","strokeWidth":0.9},"encoding":{"y2":{"field":"y2"}}},
  {"transform":[{"filter":"datum.part==='cap'"}],"mark":{"type":"tick","color":"#222","size":11,"thickness":0.9}},
  {"transform":[{"filter":"datum.part==='mean'"}],"mark":{"type":"tick","color":"#222","size":26,"thickness":1.1}},
  {"transform":[{"filter":"datum.part==='bh'"}],"mark":{"type":"rule","color":"#666","strokeWidth":0.9},"encoding":{"x2":{"field":"x2"}}},
  {"transform":[{"filter":"datum.part==='bv'"}],"mark":{"type":"rule","color":"#666","strokeWidth":0.9},"encoding":{"y2":{"field":"y2"}}},
  {"transform":[{"filter":"datum.part==='sig'"}],"mark":{"type":"text","fontSize":6,"color":"#444","dx":26.2,"baseline":"middle"},"encoding":{"text":{"field":"t"}}},
  {"transform":[{"filter":"datum.part==='letter'"}],"mark":{"type":"text","fontSize":21,"fontWeight":"bold","color":"#111","dx":-79.3,"dy":-14.5,"baseline":"middle"},"encoding":{"text":{"field":"t"}}}
 ]},
{"data":{"values":[{"p":"strip","s":"7.1 kPa"},{"p":"strip","s":"9.3 kPa"},{"p":"strip","s":"50.6 kPa"}]},
 "encoding":{"x":{"field":"p","type":"nominal","scale":{"type":"band","domain":["strip"],"range":[266,290],"padding":0},"axis":null},
  "y":{"field":"s","type":"nominal","scale":{"type":"band","domain":["7.1 kPa","9.3 kPa","50.6 kPa"],"range":[653,960.7],"paddingInner":0.0758,"paddingOuter":0},"axis":null}},
 "layer":[
  {"mark":{"type":"rect","fill":"white","stroke":"#444","strokeWidth":1,"width":24}},
  {"mark":{"type":"text","angle":90,"fontSize":13.3,"color":"#222","baseline":"middle"},"encoding":{"text":{"field":"s"}}}
 ]},
{"data":{"name":"f1"},
 "encoding":{"x":{"field":"d","type":"quantitative","scale":{"domain":[-4.7,105],"range":[57.3,266]},"axis":null},
  "y":{"field":"m","type":"quantitative","scale":{"domain":[-2.2,62.9],"range":[750,653]},
   "axis":{"orient":"left","offset":-57.3,"title":null,"values":[0,20,40,60],"labelFontSize":12,"labelColor":"#333","labelPadding":2,"tickSize":3,"tickColor":"#444","domainColor":"#555","domainWidth":1.3}}},
 "layer":[
  {"mark":{"type":"line","color":"#111","strokeWidth":1}},
  {"mark":{"type":"point","filled":true,"fill":"#10d010","stroke":"#1a3a1a","strokeWidth":0.5,"size":24,"opacity":1}},
  {"mark":{"type":"rule","color":"#333","strokeWidth":0.8},"encoding":{"y":{"field":"lo","type":"quantitative"},"y2":{"field":"hi"}}},
  {"mark":{"type":"tick","orient":"horizontal","color":"#333","size":3.5,"thickness":0.8},"encoding":{"y":{"field":"lo","type":"quantitative"}}},
  {"mark":{"type":"tick","orient":"horizontal","color":"#333","size":3.5,"thickness":0.8},"encoding":{"y":{"field":"hi","type":"quantitative"}}},
  {"data":{"values":[{"d":0,"m":60,"t":"f"}]},"mark":{"type":"text","fontSize":21,"fontWeight":"bold","color":"#111","dx":-58,"dy":-2.5,"baseline":"middle"},"encoding":{"text":{"field":"t"}}}
 ]},
{"data":{"name":"f2"},
 "encoding":{"x":{"field":"d","type":"quantitative","scale":{"domain":[-4.7,105],"range":[57.3,266]},"axis":null},
  "y":{"field":"m","type":"quantitative","scale":{"domain":[-2.5,62.9],"range":[855,758]},
   "axis":{"orient":"left","offset":-57.3,"title":"MFI (a.u.)","titleFontSize":14,"titleFontWeight":"bold","titleColor":"#111","titlePadding":6,"titleY":802,"values":[0,20,40,60],"labelFontSize":12,"labelColor":"#333","labelPadding":2,"tickSize":3,"tickColor":"#444","domainColor":"#555","domainWidth":1.3}}},
 "layer":[
  {"mark":{"type":"line","color":"#111","strokeWidth":1}},
  {"mark":{"type":"point","filled":true,"fill":"#10d010","stroke":"#1a3a1a","strokeWidth":0.5,"size":24,"opacity":1}},
  {"mark":{"type":"rule","color":"#333","strokeWidth":0.8},"encoding":{"y":{"field":"lo","type":"quantitative"},"y2":{"field":"hi"}}},
  {"mark":{"type":"tick","orient":"horizontal","color":"#333","size":3.5,"thickness":0.8},"encoding":{"y":{"field":"lo","type":"quantitative"}}},
  {"mark":{"type":"tick","orient":"horizontal","color":"#333","size":3.5,"thickness":0.8},"encoding":{"y":{"field":"hi","type":"quantitative"}}}
 ]},
{"data":{"name":"f3"},
 "encoding":{"x":{"field":"d","type":"quantitative","scale":{"domain":[-4.7,105],"range":[57.3,266]},
   "axis":{"orient":"bottom","offset":-39.3,"title":"Scan Depth (µm)","titleFontSize":14,"titleFontWeight":"bold","titleColor":"#111","titlePadding":6,"values":[0,25,50,75,100],"labelFontSize":12,"labelColor":"#333","labelPadding":4,"tickSize":3,"tickColor":"#444","domainColor":"#555","domainWidth":1.3}},
  "y":{"field":"m","type":"quantitative","scale":{"domain":[-2.7,62.9],"range":[960.7,863]},
   "axis":{"orient":"left","offset":-57.3,"title":null,"values":[0,20,40,60],"labelFontSize":12,"labelColor":"#333","labelPadding":2,"tickSize":3,"tickColor":"#444","domainColor":"#555","domainWidth":1.3}}},
 "layer":[
  {"mark":{"type":"line","color":"#111","strokeWidth":1}},
  {"mark":{"type":"point","filled":true,"fill":"#10d010","stroke":"#1a3a1a","strokeWidth":0.5,"size":24,"opacity":1}},
  {"mark":{"type":"rule","color":"#333","strokeWidth":0.8},"encoding":{"y":{"field":"lo","type":"quantitative"},"y2":{"field":"hi"}}},
  {"mark":{"type":"tick","orient":"horizontal","color":"#333","size":3.5,"thickness":0.8},"encoding":{"y":{"field":"lo","type":"quantitative"}}},
  {"mark":{"type":"tick","orient":"horizontal","color":"#333","size":3.5,"thickness":0.8},"encoding":{"y":{"field":"hi","type":"quantitative"}}}
 ]},
{"encoding":{"x":{"field":"x","type":"quantitative","scale":{"domain":[0,733],"range":[297.3,544.3]},"axis":null},"y":{"field":"y","type":"quantitative","scale":{"domain":[0,106],"range":[691,726.7]},"axis":null}},
 "layer":[
  {"data":{"values":[{"x":0,"x2":733,"y":0,"y2":106}]},"mark":{"type":"rect","fill":"#000000","stroke":"#bbbbbb","strokeWidth":0.5},"encoding":{"x2":{"field":"x2"},"y2":{"field":"y2"}}},
  {"data":{"name":"img1"},"mark":{"type":"line","color":"#062f06","strokeWidth":13}},
  {"data":{"name":"img1"},"mark":{"type":"line","color":"#0b5c0b","strokeWidth":9}},
  {"data":{"name":"img1"},"mark":{"type":"line","color":"#128212","strokeWidth":5}},
  {"data":{"values":[{"x":625,"x2":725,"y":81}]},"mark":{"type":"rule","color":"white","strokeWidth":2},"encoding":{"x2":{"field":"x2"}}},
  {"data":{"values":[{"x":764.5,"y":-15,"y2":96}]},"mark":{"type":"rule","color":"black","strokeWidth":2.5},"encoding":{"y2":{"field":"y2"}}},
  {"data":{"values":[{"x":764.5,"y":98}]},"mark":{"type":"point","shape":"triangle-down","filled":true,"color":"black","size":70,"opacity":1}},
  {"data":{"values":[{"x":792,"y":15,"t":"Scan"},{"x":792,"y":62,"t":"direction"}]},"mark":{"type":"text","fontSize":13,"color":"#222","align":"left","baseline":"middle"},"encoding":{"text":{"field":"t"}}}
 ]},
{"encoding":{"x":{"field":"x","type":"quantitative","scale":{"domain":[0,733],"range":[297.3,544.3]},"axis":null},"y":{"field":"y","type":"quantitative","scale":{"domain":[0,106],"range":[791.3,826.7]},"axis":null}},
 "layer":[
  {"data":{"values":[{"x":0,"x2":733,"y":0,"y2":106}]},"mark":{"type":"rect","fill":"#000000","stroke":"#bbbbbb","strokeWidth":0.5},"encoding":{"x2":{"field":"x2"},"y2":{"field":"y2"}}},
  {"data":{"name":"img2"},"mark":{"type":"line","color":"#062f06","strokeWidth":10}},
  {"data":{"name":"img2"},"mark":{"type":"line","color":"#0b5c0b","strokeWidth":6}},
  {"data":{"name":"img2"},"mark":{"type":"line","color":"#128212","strokeWidth":3}},
  {"data":{"values":[{"x":625,"x2":725,"y":81}]},"mark":{"type":"rule","color":"white","strokeWidth":2},"encoding":{"x2":{"field":"x2"}}}
 ]},
{"encoding":{"x":{"field":"x","type":"quantitative","scale":{"domain":[0,733],"range":[297.3,544.3]},"axis":null},"y":{"field":"y","type":"quantitative","scale":{"domain":[0,106],"range":[891.3,926.7]},"axis":null}},
 "layer":[
  {"data":{"values":[{"x":0,"x2":733,"y":0,"y2":106}]},"mark":{"type":"rect","fill":"#000000","stroke":"#bbbbbb","strokeWidth":0.5},"encoding":{"x2":{"field":"x2"},"y2":{"field":"y2"}}},
  {"data":{"name":"img3"},"mark":{"type":"line","color":"#062f06","strokeWidth":9}},
  {"data":{"name":"img3"},"mark":{"type":"line","color":"#0b5c0b","strokeWidth":5}},
  {"data":{"name":"img3"},"mark":{"type":"line","color":"#128212","strokeWidth":2.5}},
  {"data":{"values":[{"x":625,"x2":725,"y":81}]},"mark":{"type":"rule","color":"white","strokeWidth":2},"encoding":{"x2":{"field":"x2"}}}
 ]}
]
}
